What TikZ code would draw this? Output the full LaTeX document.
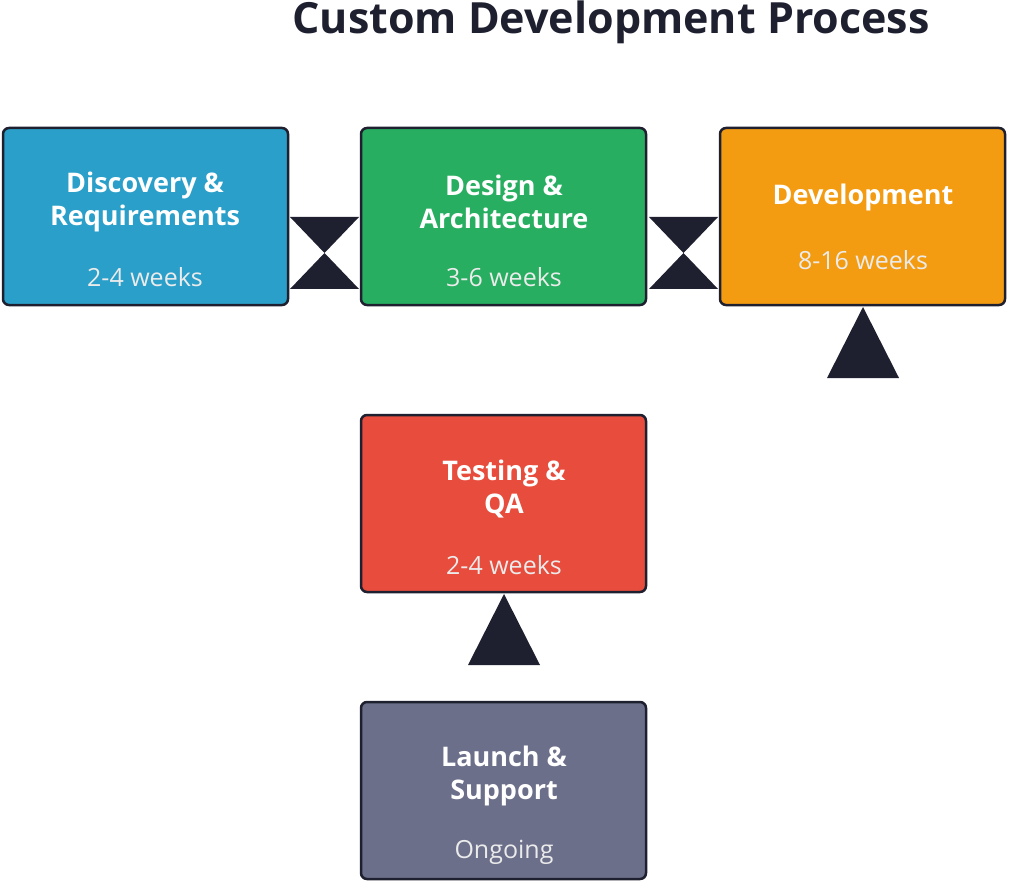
\documentclass[tikz,border=0pt]{standalone}
\usepackage{fontspec}
\setmainfont{Open Sans}
\begin{document}
\begin{tikzpicture}[x=1pt,y=-1pt,
  box/.style={draw=edge,line width=2.5pt,rounded corners=6pt,minimum width=285pt,minimum height=177pt,inner sep=0pt},
  head/.style={fill=edge,draw=none},
  t/.style={text=white,font=\fontsize{27}{33}\selectfont\bfseries,align=center},
  w/.style={text=white!92!black,font=\fontsize{25}{30}\selectfont}]
\definecolor{edge}{HTML}{1E2030}
\definecolor{cb}{HTML}{2A9FC9}
\definecolor{cg}{HTML}{27AE60}
\definecolor{co}{HTML}{F39C12}
\definecolor{cr}{HTML}{E74C3C}
\definecolor{cp}{HTML}{6B6F8A}
\useasboundingbox (0,0) rectangle (1024,882);
\node[text=edge,font=\fontsize{43}{50}\selectfont\bfseries] (title) at (611,22) {Custom Development Process};
\node[box,fill=cb] (a) at (145.5,216.5) {};
\node[box,fill=cg] (b) at (503.5,216.5) {};
\node[box,fill=co] (c) at (862.5,216.5) {};
\node[box,fill=cr] (d) at (503.5,503.5) {};
\node[box,fill=cp] (e) at (503.5,790.5) {};
\node[t] (a1) at (145,202) {Discovery \&\\Requirements};
\node[w] (a2) at (145,277) {2-4 weeks};
\node[t] (b1) at (504,202) {Design \&\\Architecture};
\node[w] (b2) at (504,277) {3-6 weeks};
\node[t] (c1) at (863,197) {Development};
\node[w] (c2) at (863,260) {8-16 weeks};
\node[t] (d1) at (504,489) {Testing \&\\QA};
\node[w] (d2) at (504,565) {2-4 weeks};
\node[t] (e1) at (504,776) {Launch \&\\Support};
\node[w] (e2) at (504,852) {Ongoing};
% arrowheads
\fill[head] (290,217) -- (359,217) -- (324.5,253) -- cycle;
\fill[head] (290,289) -- (359,289) -- (324.5,253) -- cycle;
\fill[head] (649,217) -- (718,217) -- (683.5,253) -- cycle;
\fill[head] (649,289) -- (718,289) -- (683.5,253) -- cycle;
\fill[head] (863,307) -- (899,378) -- (827,378) -- cycle;
\fill[head] (504,594) -- (540,665) -- (468,665) -- cycle;
\end{tikzpicture}
\end{document}
